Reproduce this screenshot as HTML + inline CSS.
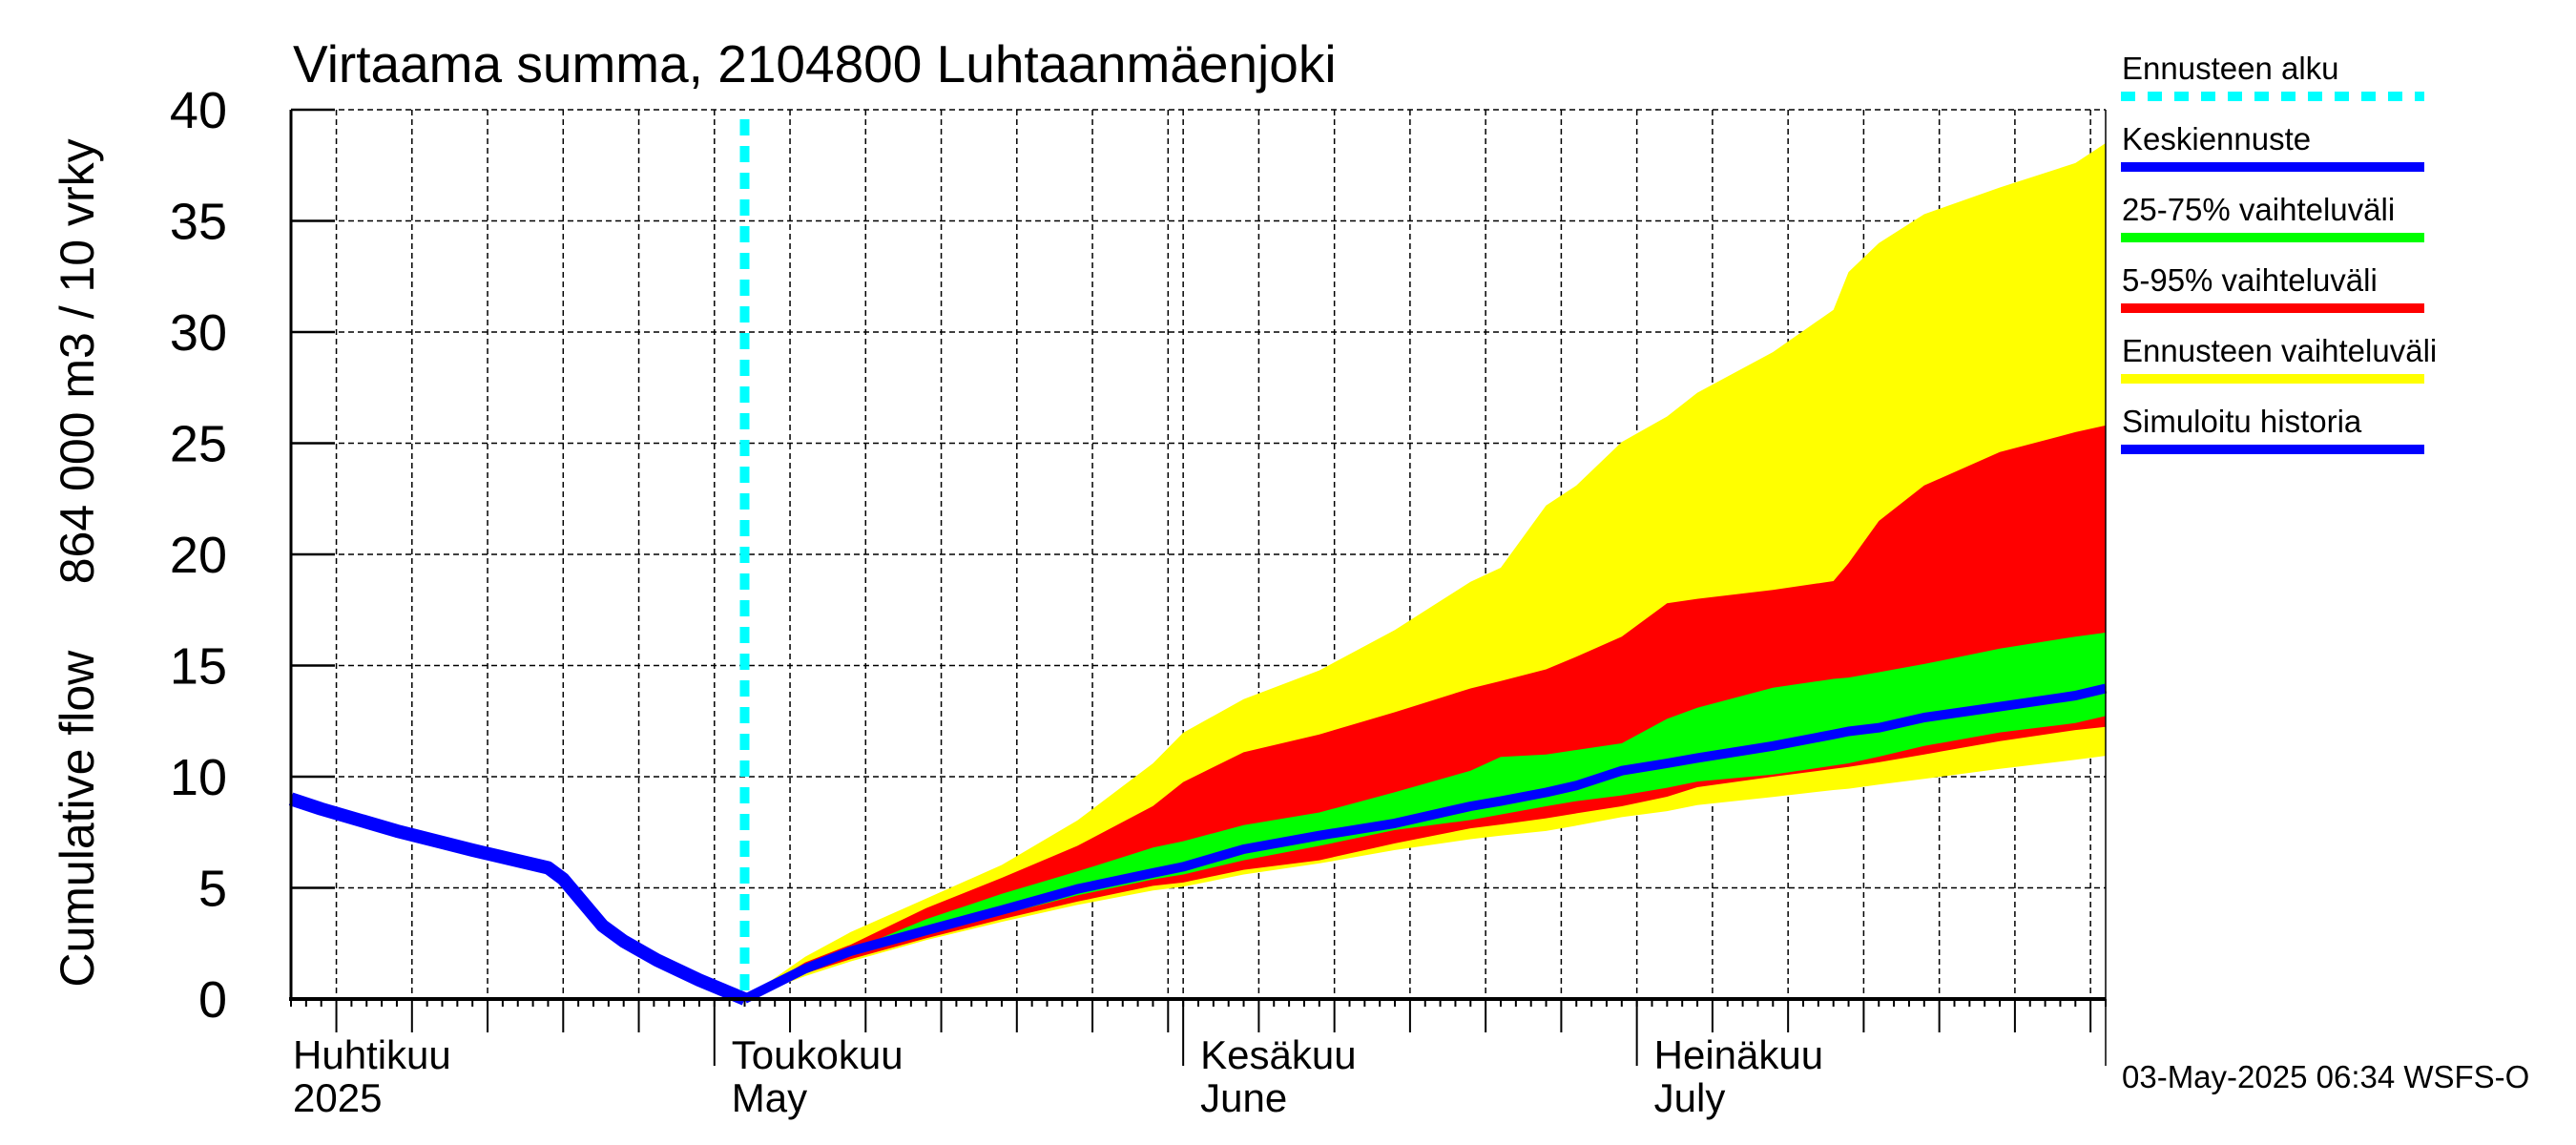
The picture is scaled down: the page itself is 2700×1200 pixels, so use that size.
<!DOCTYPE html>
<html><head><meta charset="utf-8"><title>Virtaama summa</title>
<style>html,body{margin:0;padding:0;background:#fff;}svg{display:block;font-family:"Liberation Sans",Arial,sans-serif;}</style>
</head><body>
<svg id="chart" width="2700" height="1200" viewBox="0 0 2700 1200" xmlns="http://www.w3.org/2000/svg">
<rect x="0" y="0" width="2700" height="1200" fill="#fff"/>
<g id="grid"></g>
<g id="bands"></g>
<g id="lines"></g>
<g id="axes"></g>
<text x="307" y="86" font-size="55">Virtaama summa, 2104800 Luhtaanmäenjoki</text>
<text transform="translate(98,590) rotate(-90)" text-anchor="middle" font-size="50" xml:space="preserve">Cumulative flow     864 000 m3 / 10 vrky</text>
<g id="legend"></g>
<text x="2224" y="1140" font-size="33">03-May-2025 06:34 WSFS-O</text>
</svg>
<script>
// Data (day index: 0 = 1 April 2025)
const histDays = [2, 4, 9, 14, 19, 20, 22.6, 24, 26.2, 29, 32];
const histVals = [9.0, 8.55, 7.56, 6.7, 5.9, 5.4, 3.3, 2.6, 1.75, 0.85, 0];
const fcDays = [32, 36, 39, 44, 49, 54, 59, 61, 65, 70, 75, 80, 82, 85, 87, 90, 93, 95, 100, 104, 105, 107, 110, 115, 120, 122];
const medianVals = [0, 1.36, 2.15, 3.08, 4.0, 4.95, 5.67, 5.95, 6.74, 7.35, 7.9, 8.67, 8.9, 9.29, 9.6, 10.27, 10.6, 10.84, 11.38, 11.9, 12.04, 12.2, 12.66, 13.15, 13.65, 13.97];
const maxVals = [0, 1.9, 3.01, 4.52, 6.03, 8.03, 10.6, 11.98, 13.49, 14.78, 16.6, 18.77, 19.4, 22.2, 23.1, 25.05, 26.2, 27.27, 29.1, 31.0, 32.7, 34.0, 35.3, 36.5, 37.6, 38.5];
const p95Vals = [0, 1.65, 2.44, 4.09, 5.45, 6.89, 8.68, 9.76, 11.1, 11.9, 12.9, 13.97, 14.3, 14.83, 15.4, 16.3, 17.8, 18.0, 18.4, 18.8, 19.6, 21.5, 23.1, 24.6, 25.5, 25.8];
const p75Vals = [0, 1.55, 2.18, 3.59, 4.73, 5.74, 6.81, 7.1, 7.82, 8.39, 9.3, 10.27, 10.89, 11.0, 11.2, 11.5, 12.6, 13.1, 14.0, 14.4, 14.46, 14.7, 15.07, 15.76, 16.3, 16.48];
const p25Vals = [0, 1.29, 1.94, 2.87, 3.8, 4.66, 5.38, 5.6, 6.24, 6.89, 7.6, 8.05, 8.3, 8.67, 8.9, 9.16, 9.5, 9.78, 10.1, 10.5, 10.6, 10.9, 11.38, 11.99, 12.41, 12.73];
const p05Vals = [0, 1.15, 1.79, 2.73, 3.59, 4.38, 5.09, 5.24, 5.81, 6.24, 7.0, 7.68, 7.85, 8.13, 8.35, 8.67, 9.1, 9.53, 10.0, 10.35, 10.44, 10.65, 11.0, 11.6, 12.1, 12.24];
const minVals = [0, 1.03, 1.69, 2.65, 3.47, 4.23, 4.88, 5.05, 5.6, 6.1, 6.7, 7.19, 7.35, 7.56, 7.8, 8.18, 8.45, 8.72, 9.09, 9.4, 9.46, 9.65, 9.9, 10.35, 10.76, 10.94];
const forecastStartDay = 32;
const yTicks = [0, 5, 10, 15, 20, 25, 30, 35, 40];
const monthStarts = [0, 30, 61, 91, 122];
const monthLabels = [["Huhtikuu","2025"],["Toukokuu","May"],["Kesäkuu","June"],["Heinäkuu","July"]];

const NS = "http://www.w3.org/2000/svg";
const X0 = 305, X1 = 2207, Y0 = 1047, Y1 = 115;
const D0 = 2, D1 = 122;
function xs(d){ return X0 + (d - D0) * (X1 - X0) / (D1 - D0); }
function ys(v){ return Y0 - v * (Y0 - Y1) / 40; }
function mk(tag, attrs, parent){ const e = document.createElementNS(NS, tag); for (const k in attrs) e.setAttribute(k, attrs[k]); parent.appendChild(e); return e; }

const grid = document.getElementById('grid');
const axes = document.getElementById('axes');
yTicks.forEach(v => {
  if (v === 0) return;
  const l = mk('line', {x1:X0, x2:X1, y1:ys(v), y2:ys(v), stroke:'#000', 'stroke-width':1.5, 'stroke-dasharray':'6,4'}, grid);
  
  
});
const mdays = [30, 31, 30, 31];
for (let m = 0; m < 4; m++) {
  const s = monthStarts[m];
  for (let k = 0; k <= mdays[m]; k++) {
    const d = s + k;
    if (d < D0 || d > D1) continue;
    const x = xs(d);
    const isMonth = (k === 0);
    const isFive = (k > 0 && k % 5 === 0 && k < mdays[m]) || (k === 30 && mdays[m] === 31);
    let len = 8;
    if (isFive) len = 35;
    if (isMonth) len = 70;
    const t = mk('line', {x1:x, x2:x, y1:Y0, y2:Y0 + len, stroke:'#000', 'stroke-width':2}, axes);
    
    
    if (isFive || isMonth) {
      const g = mk('line', {x1:x, x2:x, y1:Y1, y2:Y0, stroke:'#000', 'stroke-width':1.5, 'stroke-dasharray':'6,4'}, grid);
      
      
    }
  }
}
{ const g = mk('line', {x1:X1, x2:X1, y1:Y1, y2:Y0 + 70, stroke:'#000', 'stroke-width':1.5}, axes);
    }

const bands = document.getElementById('bands');
function band(up, lo, color, name){
  let d = 'M' + fcDays.map((dd,i)=> xs(dd).toFixed(1) + ',' + ys(up[i]).toFixed(1)).join(' L');
  for (let i = fcDays.length - 1; i >= 0; i--) d += ' L' + xs(fcDays[i]).toFixed(1) + ',' + ys(lo[i]).toFixed(1);
  const p = mk('path', {d: d + 'Z', fill: color, stroke: 'none'}, bands);
  
  
}
band(maxVals, minVals, '#ffff00', 'forecast-range-band');
band(p95Vals, p05Vals, '#ff0000', 'band-5-95');
band(p75Vals, p25Vals, '#00ff00', 'band-25-75');

const lines = document.getElementById('lines');
function poly(days, vals, w, name){
  const pts = days.map((d,i)=> xs(d).toFixed(1) + ',' + ys(vals[i]).toFixed(1)).join(' ');
  const p = mk('polyline', {points: pts, fill:'none', stroke:'#0000ff', 'stroke-width':w, 'stroke-linejoin':'round'}, lines);
  
  
}
poly(fcDays, medianVals, 10, 'median-forecast-line');
poly(histDays, histVals, 14, 'simulated-history-line');
{ const c = mk('line', {x1:xs(forecastStartDay), x2:xs(forecastStartDay), y1:Y1 + 10, y2:Y0, stroke:'#00ffff', 'stroke-width':10, 'stroke-dasharray':'17,11'}, lines);
    }

{ const a = mk('line', {x1:X0, x2:X0, y1:Y1, y2:Y0 + 2, stroke:'#000', 'stroke-width':3}, axes);
   
  const b = mk('line', {x1:X0 - 2, x2:X1, y1:Y0, y2:Y0, stroke:'#000', 'stroke-width':4}, axes);
    }
yTicks.forEach(v => {
  const t = mk('line', {x1:X0, x2:X0 + 46, y1:ys(v), y2:ys(v), stroke:'#000', 'stroke-width':2.5}, axes);
  
  
  const tx = mk('text', {x:238, y:ys(v) + 19, 'text-anchor':'end', 'font-size':54}, axes);
  tx.textContent = v;
  
  
});
monthLabels.forEach((lab, i) => {
  const x = Math.max(xs(monthStarts[i]), X0) + (i === 0 ? 2 : 18);
  const t1 = mk('text', {x:x, y:1120, 'font-size':42}, axes);
  t1.textContent = lab[0];
  
  
  const t2 = mk('text', {x:x, y:1165, 'font-size':42}, axes);
  t2.textContent = lab[1];
  
  
});

const legend = document.getElementById('legend');
const legItems = [["Ennusteen alku","#00ffff",true],["Keskiennuste","#0000ff",false],["25-75% vaihteluväli","#00ff00",false],["5-95% vaihteluväli","#ff0000",false],["Ennusteen vaihteluväli","#ffff00",false],["Simuloitu historia","#0000ff",false]];
legItems.forEach((it, i) => {
  const yb = 83 + i * 74;
  const t = mk('text', {x:2224, y:yb, 'font-size':33}, legend);
  t.textContent = it[0];
  
  
  const attrs = {x1:2223, x2:2541, y1:yb + 18, y2:yb + 18, stroke:it[1], 'stroke-width':10};
  if (it[2]) attrs['stroke-dasharray'] = '15,13';
  const l = mk('line', attrs, legend);
  
  
});
</script>
</body></html>
